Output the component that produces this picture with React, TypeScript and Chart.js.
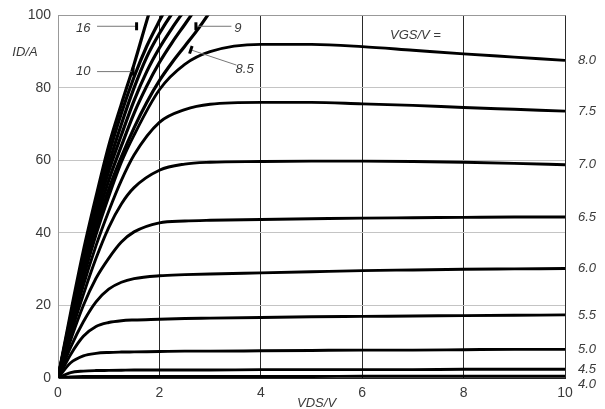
import React, { useEffect, useRef } from "react";
import { Chart, registerables } from "chart.js";

Chart.register(...registerables);

// ---- data ----
const vdsSat = [0, 0.25, 0.5, 0.75, 1, 1.25, 1.5, 2, 2.5, 3, 4, 5, 6, 7, 8, 9, 10];
const vgsSat = [8.0, 7.5, 7.0, 6.5, 6.0, 5.5, 5.0, 4.5, 4.0];
const id80 = [0, 14, 27.5, 39.5, 50, 59.5, 67, 79.5, 86.5, 90, 92, 92, 91.4, 90.4, 89.4, 88.5, 87.6];
const id75 = [0, 13, 25.5, 36.5, 46, 54.5, 61.5, 70.5, 74, 75.5, 76, 76, 75.6, 75.2, 74.6, 74.1, 73.6];
const id70 = [0, 12, 23, 33, 41.5, 48, 52.5, 57.3, 59, 59.5, 59.7, 59.8, 59.8, 59.7, 59.5, 59.2, 58.8];
const id65 = [0, 10.5, 20, 27.5, 33, 37.5, 40.3, 42.8, 43.3, 43.5, 43.7, 43.9, 44.1, 44.2, 44.3, 44.4, 44.4];
const id60 = [0, 8.5, 15.5, 21, 24.5, 26.4, 27.4, 28.2, 28.5, 28.7, 29, 29.3, 29.6, 29.8, 30, 30.1, 30.2];
const id55 = [0, 6.5, 11.5, 14.2, 15.3, 15.8, 16.0, 16.2, 16.4, 16.5, 16.7, 16.9, 17, 17.1, 17.2, 17.3, 17.4];
const id50 = [0, 4.2, 6.1, 6.8, 7.05, 7.15, 7.2, 7.3, 7.4, 7.4, 7.5, 7.6, 7.7, 7.7, 7.8, 7.9, 7.9];
const id45 = [0, 1.5, 1.9, 2.05, 2.1, 2.15, 2.2, 2.2, 2.2, 2.2, 2.3, 2.3, 2.3, 2.3, 2.4, 2.4, 2.4];
const id40 = [0, 0.3, 0.4, 0.4, 0.4, 0.4, 0.4, 0.4, 0.4, 0.4, 0.4, 0.4, 0.5, 0.5, 0.5, 0.5, 0.5];
const satSeries = [id80, id75, id70, id65, id60, id55, id50, id45, id40];

const vdsLin = [0, 0.25, 0.5, 0.75, 1, 1.25, 1.5, 1.75, 2, 2.25, 2.5, 2.75, 3];
const vgsLin = [16, 12, 10, 9.5, 9, 8.5];
const id160 = [0, 18, 35, 50, 64, 75.5, 86.5, 98.5, 110];
const id120 = [0, 17, 33.5, 48, 61.5, 73, 83, 91.5, 98.5, 105];
const id100 = [0, 16.5, 32, 46.5, 59, 70, 80, 88.5, 95, 100.5, 105];
const id95 = [0, 16, 31, 45, 57, 67, 76.5, 84.5, 91, 96.5, 101.5];
const id90 = [0, 15.5, 30, 43, 54.5, 64, 73, 80.5, 87, 92.5, 97.5, 102.5];
const id85 = [0, 15, 29, 41, 52, 61, 69, 76, 82, 87, 91.5, 96, 101];
const linSeries = [id160, id120, id100, id95, id90, id85];

const xTicks = [0, 2, 4, 6, 8, 10];
const yTicks = [0, 20, 40, 60, 80, 100];

const TXT = "#3a3a3a";
const FONT = '"Liberation Sans", Arial, sans-serif';

export default function App() {
  const ref = useRef<HTMLCanvasElement | null>(null);

  useEffect(() => {
    document.body.style.margin = "0";
    const canvas = ref.current!;
    const datasets: any[] = [];
    satSeries.forEach((s, i) => {
      datasets.push({
        label: vgsSat[i].toFixed(1),
        data: s.map((v, j) => ({ x: vdsSat[j], y: v })),
        borderColor: "#000",
        borderWidth: 2.9,
        pointRadius: 0,
        cubicInterpolationMode: "monotone",
        fill: false,
      });
    });
    linSeries.forEach((s, i) => {
      datasets.push({
        label: String(vgsLin[i]),
        data: s.map((v, j) => ({ x: vdsLin[j], y: v })),
        borderColor: "#000",
        borderWidth: 3.2,
        pointRadius: 0,
        cubicInterpolationMode: "monotone",
        fill: false,
      });
    });

    const annot = {
      id: "annot",
      afterDatasetsDraw(chart: any) {
        const { ctx, chartArea, scales } = chart;
        const xs = scales.x;
        const ys = scales.y;
        const px = (v: number) => xs.getPixelForValue(v);
        const py = (v: number) => ys.getPixelForValue(v);
        ctx.save();
        ctx.fillStyle = TXT;
        ctx.font = `italic 13px ${FONT}`;
        ctx.textAlign = "center";
        ctx.textBaseline = "middle";
        ctx.fillText("ID/A", 25, 52);
        ctx.fillText("VGS/V =", px(7.05), py(94.5));
        ctx.fillText("VDS/V", px(5.1), chartArea.bottom + 25);

        // right labels
        ctx.textAlign = "left";
        let prev = -Infinity;
        satSeries.forEach((s, i) => {
          let y = py(s[s.length - 1]);
          if (y < prev + 15) y = prev + 15;
          prev = y;
          ctx.fillText(vgsSat[i].toFixed(1), chartArea.right + 13, y);
        });

        // pointer labels
        const ptrs = [
          { t: "16", tx: 0.5, ty: 96.5, x0: 0.77, y0: 97, x1: 1.55, y1: 97 },
          { t: "10", tx: 0.5, ty: 84.5, x0: 0.77, y0: 84.5, x1: 1.48, y1: 84.5 },
          { t: "9", tx: 3.55, ty: 96.5, x0: 3.42, y0: 97, x1: 2.72, y1: 97 },
          { t: "8.5", tx: 3.68, ty: 85, x0: 3.52, y0: 86.3, x1: 2.62, y1: 90.5 },
        ];
        ctx.textAlign = "center";
        ptrs.forEach((p) => {
          ctx.fillStyle = TXT;
          ctx.fillText(p.t, px(p.tx), py(p.ty));
          const ax = px(p.x0), ay = py(p.y0), bx = px(p.x1), by = py(p.y1);
          ctx.strokeStyle = "#777";
          ctx.lineWidth = 1;
          ctx.beginPath();
          ctx.moveTo(ax, ay);
          ctx.lineTo(bx, by);
          ctx.stroke();
          const dx = bx - ax, dy = by - ay;
          const L = Math.hypot(dx, dy);
          const nx = -dy / L, ny = dx / L;
          ctx.strokeStyle = "#000";
          ctx.lineWidth = 3;
          ctx.beginPath();
          ctx.moveTo(bx - nx * 4, by - ny * 4);
          ctx.lineTo(bx + nx * 4, by + ny * 4);
          ctx.stroke();
        });
        ctx.restore();
      },
    };

    const chart = new Chart(canvas, {
      type: "line",
      data: { datasets },
      options: {
        animation: false,
        responsive: false,
        maintainAspectRatio: false,
        layout: { padding: { top: 13, right: 40, left: 0, bottom: 0 } },
        plugins: { legend: { display: false }, tooltip: { enabled: false } },
        scales: {
          x: {
            type: "linear",
            min: 0,
            max: 10,
            afterFit: (s: any) => { s.height = 31; },
            afterBuildTicks: (s: any) => { s.ticks = xTicks.map((v) => ({ value: v })); },
            ticks: { color: TXT, font: { family: FONT, size: 14 }, padding: 7, maxRotation: 0 },
            grid: {
              drawTicks: false,
              color: (c: any) => (c.tick && c.tick.value === 0 ? "#999" : "#2a2a2a"),
              lineWidth: 1,
            },
            border: { display: true, color: "#222", width: 1 },
          },
          y: {
            type: "linear",
            min: 0,
            max: 100,
            afterFit: (s: any) => { s.width = 58; },
            afterBuildTicks: (s: any) => { s.ticks = yTicks.map((v) => ({ value: v })); },
            ticks: { color: TXT, font: { family: FONT, size: 14 }, padding: 7 },
            grid: {
              drawTicks: false,
              color: (c: any) =>
                c.tick && c.tick.value === 100 ? "#999" : c.tick && c.tick.value === 0 ? "#222" : "#c4c4c4",
              lineWidth: 1,
            },
            border: { display: true, color: "#999", width: 1 },
          },
        },
      },
      plugins: [annot],
    } as any);
    return () => chart.destroy();
  }, []);

  return (
    <div style={{ width: 605, height: 409, background: "#fff" }}>
      <canvas ref={ref} width={605} height={409} style={{ display: "block" }} />
    </div>
  );
}
